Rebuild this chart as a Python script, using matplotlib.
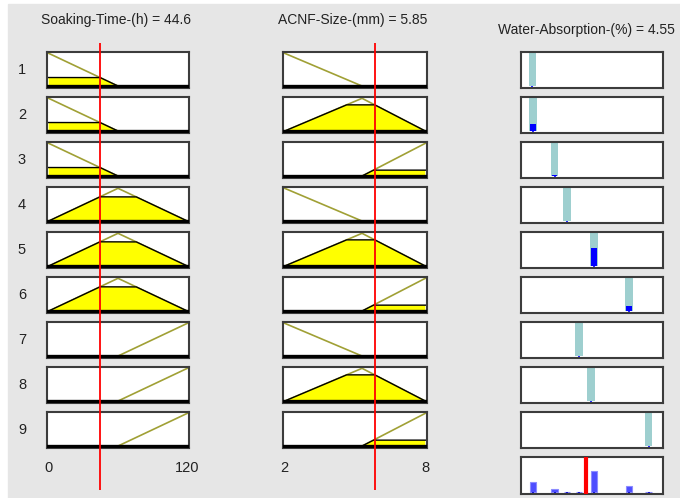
import numpy as np
import matplotlib.pyplot as plt
from matplotlib.patches import Rectangle

plt.rcParams['font.family'] = ['Liberation Sans', 'DejaVu Sans']

# input / output ranges and current values
soak_range = [0, 120]
size_range = [2, 8]
out_range = [0, 10]
soak_value = 44.6
size_value = 5.85
out_value = 4.55

# membership functions (breakpoints) read from the viewer
soak_mf_x = [[0, 60], [0, 60, 120], [60, 120]]
soak_mf_y = [[1, 0], [0, 1, 0], [0, 1]]
soak_degree = [0.26, 0.74, 0.0]

size_mf_x = [[2, 5.3], [2, 5.3, 8], [5.3, 8]]
size_mf_y = [[1, 0], [0, 1, 0], [0, 1]]
size_degree = [0.0, 0.8, 0.18]

# rules: which mf of each input, output constant, firing strength
rule_soak = [0, 0, 0, 1, 1, 1, 2, 2, 2]
rule_size = [0, 1, 2, 0, 1, 2, 0, 1, 2]
rule_out = [0.8, 0.85, 2.36, 3.24, 5.14, 7.6, 4.08, 4.93, 9.0]
rule_fire = [0.0, 0.21, 0.04, 0.0, 0.56, 0.15, 0.0, 0.0, 0.0]

# aggregated output
agg_x = [0.85, 2.36, 3.24, 4.08, 5.14, 7.6, 9.0]
agg_h = [0.30, 0.08, 0.0, 0.0, 0.62, 0.18, 0.0]

W, H = 680, 498


def box(x0, y0, x1, y1):
    return [x0 / W, 1 - y1 / H, (x1 - x0) / W, (y1 - y0) / H]


fig = plt.figure(figsize=(W / 100, H / 100), dpi=100, facecolor='white')
fig.patches.append(Rectangle((8 / W, 0), 1 - 8 / W, 1 - 4 / H,
                             transform=fig.transFigure, color='#e6e6e6', zorder=-5))

cols = [(47, 189), (283, 427), (521, 663)]
row_top0, row_pitch, row_h = 52, 45, 36


def style_panel(ax):
    ax.set_xticks([])
    ax.set_yticks([])
    for s in ax.spines.values():
        s.set_color('#3c3c3c')
        s.set_linewidth(1.5)
    ax.set_facecolor('white')


def draw_input(ax, xs, ys, level, rng):
    pad = (rng[1] - rng[0]) * 0.012
    ax.set_xlim(rng[0] - pad, rng[1] + pad)
    ax.set_ylim(-0.06, 1.04)
    ax.plot(xs, ys, color='#a0a035', lw=1.2, zorder=2)
    if level > 0:
        gx = np.linspace(xs[0], xs[-1], 400)
        gy = np.minimum(np.interp(gx, xs, ys), level)
        ax.fill_between(gx, 0, gy, facecolor='#ffff00', edgecolor='none', zorder=3)
        ax.plot(gx, gy, color='black', lw=1.0, zorder=4)
    ax.axhline(0, color='black', lw=2.4, zorder=5)


for i in range(9):
    y0 = row_top0 + i * row_pitch
    y1 = y0 + row_h

    ax1 = fig.add_axes(box(cols[0][0], y0, cols[0][1], y1))
    style_panel(ax1)
    k = rule_soak[i]
    draw_input(ax1, soak_mf_x[k], soak_mf_y[k], soak_degree[k], soak_range)
    ax1.text(-0.176, 0.5, str(i + 1), transform=ax1.transAxes, ha='center',
             va='center', fontsize=10.5, color='#222222')

    ax2 = fig.add_axes(box(cols[1][0], y0, cols[1][1], y1))
    style_panel(ax2)
    k = rule_size[i]
    draw_input(ax2, size_mf_x[k], size_mf_y[k], size_degree[k], size_range)

    ax3 = fig.add_axes(box(cols[2][0], y0, cols[2][1], y1))
    style_panel(ax3)
    ax3.set_xlim(out_range)
    ax3.set_ylim(-0.06, 1.03)
    ax3.bar(rule_out[i], 1.03, width=0.52, color='#9ecfcf', zorder=2)
    if rule_fire[i] > 0:
        ax3.bar(rule_out[i], rule_fire[i], width=0.42, color='#0000ff', zorder=3)
    ax3.vlines(rule_out[i], -0.04, 0.0, color='#0000ff', lw=1.2, zorder=3)

    if i == 8:
        ax1.set_xticks(soak_range)
        ax1.set_xticklabels([str(v) for v in soak_range])
        ax2.set_xticks(size_range)
        ax2.set_xticklabels([str(v) for v in size_range])
        for a in (ax1, ax2):
            a.tick_params(axis='x', length=0, pad=9, labelsize=10.5, labelcolor='#222222')

# aggregated output panel
y0 = row_top0 + 9 * row_pitch
axa = fig.add_axes(box(cols[2][0], y0, cols[2][1], y0 + 37))
style_panel(axa)
axa.set_xlim(out_range)
axa.set_ylim(-0.06, 1.03)
axa.bar(agg_x, agg_h, width=0.48, facecolor='#4d4dff', edgecolor='#8c8cff', lw=0.8, zorder=2)
axa.vlines(agg_x, -0.04, 0.0, color='#0000cc', lw=1.2, zorder=3)
axa.axvline(out_value, color='#ff0000', lw=3, zorder=4)

# red input lines spanning all rows
for (c0, c1), rng, val in [(cols[0], soak_range, soak_value), (cols[1], size_range, size_value)]:
    ov = fig.add_axes(box(c0, 43, c1, 490))
    pad = (rng[1] - rng[0]) * 0.012
    ov.set_xlim(rng[0] - pad, rng[1] + pad)
    ov.axis('off')
    ov.patch.set_alpha(0)
    ov.set_zorder(10)
    ov.axvline(val, color='#ff0000', lw=1.3)

# titles
fig.text(116 / W, 1 - 20 / H, f'Soaking-Time-(h) = {soak_value}', ha='center', va='center',
         fontsize=10, color='#222222')
fig.text(353 / W, 1 - 20 / H, f'ACNF-Size-(mm) = {size_value}', ha='center', va='center',
         fontsize=10, color='#222222')
fig.text(498 / W, 1 - 30 / H, f'Water-Absorption-(%) = {out_value}', ha='left', va='center',
         fontsize=10, color='#222222')

fig.savefig('out.png', dpi=100, facecolor='white')
